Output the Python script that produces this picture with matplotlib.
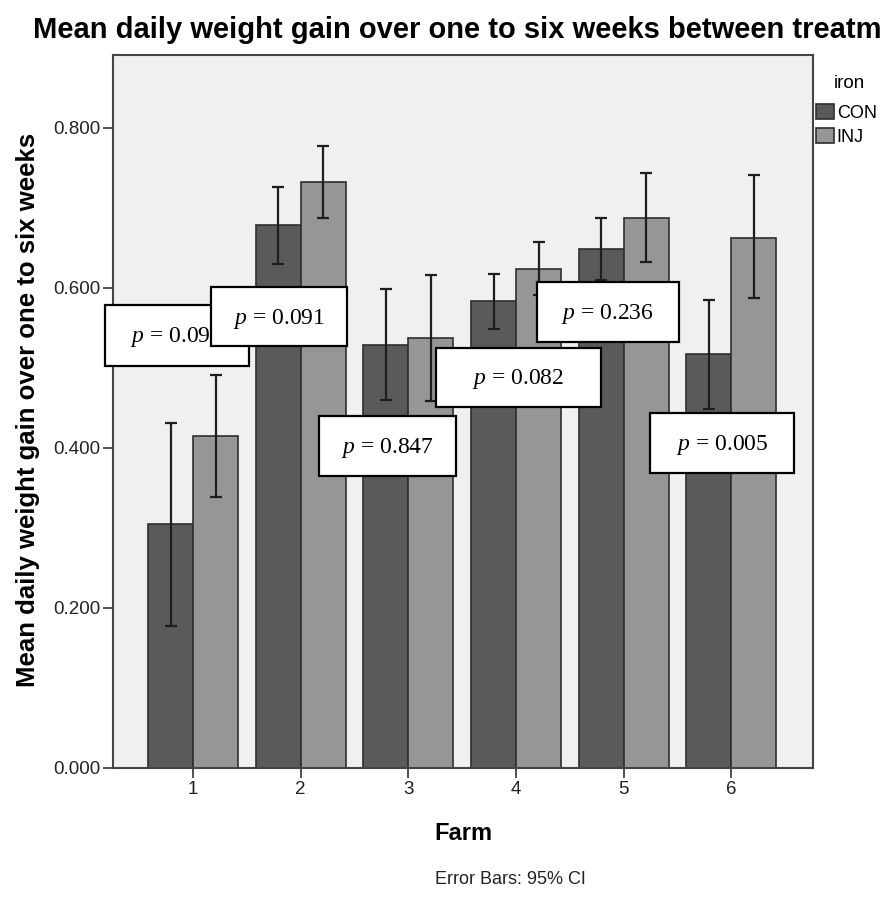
import matplotlib
matplotlib.use("Agg")
import matplotlib.pyplot as plt
from matplotlib.patches import Rectangle
import numpy as np

plt.rcParams['font.family'] = ['Liberation Sans', 'DejaVu Sans']
plt.rcParams['mathtext.fontset'] = 'custom'
plt.rcParams['mathtext.it'] = 'Liberation Serif:italic'
plt.rcParams['mathtext.rm'] = 'Liberation Serif'

# mean daily gain per farm, with 95% CI
farms = [1, 2, 3, 4, 5, 6]
con_mean = [0.305, 0.679, 0.529, 0.583, 0.649, 0.5175]
con_lo = [0.178, 0.630, 0.460, 0.549, 0.610, 0.449]
con_hi = [0.431, 0.726, 0.598, 0.6175, 0.6875, 0.585]
inj_mean = [0.415, 0.7325, 0.5375, 0.624, 0.6875, 0.6625]
inj_lo = [0.339, 0.6875, 0.459, 0.591, 0.6325, 0.5875]
inj_hi = [0.491, 0.7775, 0.616, 0.6575, 0.744, 0.741]
yticks = [0.0, 0.2, 0.4, 0.6, 0.8]

p_labels = ["0.09", "0.091", "0.847", "0.082", "0.236", "0.005"]
# box centre (data units) and size (pixels) for the p-value labels
p_boxes = [(0.851, 0.541, 144, 61), (1.80, 0.564, 136, 59),
           (2.806, 0.4025, 137, 60), (4.02, 0.488, 165, 59),
           (4.85, 0.57, 142, 60), (5.91, 0.406, 144, 60)]

W, H = 881, 901
fig = plt.figure(figsize=(W / 100, H / 100), dpi=100)
ax = fig.add_axes([113 / W, (H - 768) / H, 700 / W, 713 / H])
ax.set_facecolor('#f0f0f0')

x = np.array(farms, dtype=float)
w = 0.418
con = ax.bar(x - w / 2, con_mean, w, color='#5a5a5a', edgecolor='#2e2e2e', lw=1.2, label='CON', zorder=2)
inj = ax.bar(x + w / 2, inj_mean, w, color='#969696', edgecolor='#2e2e2e', lw=1.2, label='INJ', zorder=2)

cm = np.array(con_mean); im = np.array(inj_mean)
ax.errorbar(x - w / 2, cm, yerr=[cm - np.array(con_lo), np.array(con_hi) - cm],
            fmt='none', ecolor='#1e1e1e', elinewidth=1.6, capsize=4, capthick=1.6, zorder=3)
ax.errorbar(x + w / 2, im, yerr=[im - np.array(inj_lo), np.array(inj_hi) - im],
            fmt='none', ecolor='#1e1e1e', elinewidth=1.6, capsize=4, capthick=1.6, zorder=3)

ax.set_xlim(0.257, 6.757)
ax.set_ylim(0, 0.891)
ax.set_xticks(farms)
ax.set_xticklabels([str(f) for f in farms])
ax.set_yticks(yticks)
ax.set_yticklabels(['%.3f' % t for t in yticks])
ax.tick_params(axis='both', length=7, width=1.2, color='#333333', labelsize=13.5, labelcolor='#222222', pad=2)
for s in ax.spines.values():
    s.set_color('#444444')
    s.set_linewidth(1.5)

# p-value boxes
px2x = (6.757 - 0.257) / 700
px2y = 0.891 / 713
for i, ((cx, cy, bw, bh), lab) in enumerate(zip(p_boxes, p_labels)):
    dw = bw * px2x
    dh = bh * px2y
    ax.add_patch(Rectangle((cx - dw / 2, cy - dh / 2), dw, dh, facecolor='white',
                           edgecolor='black', lw=1.6, zorder=5 + 2 * i, clip_on=False))
    if i == 0:
        ax.text(cx - dw / 2 + 25 * px2x, cy - 2 * px2y, r'$p$ = ' + lab, ha='left', va='center',
                fontsize=17, family='Liberation Serif', zorder=6 + 2 * i)
    else:
        ax.text(cx, cy - 2 * px2y, r'$p$ = ' + lab, ha='center', va='center',
                fontsize=17, family='Liberation Serif', zorder=6 + 2 * i)

# title runs off the right edge, as in the original export
fig.text(33 / W, 1 - 30 / H, 'Mean daily weight gain over one to six weeks between treatments',
         fontsize=21, fontweight='bold', ha='left', va='center')
fig.text(28 / W, 1 - 410 / H, 'Mean daily weight gain over one to six weeks',
         fontsize=18.5, fontweight='bold', rotation=90, ha='center', va='center')
fig.text(463 / W, 1 - 833 / H, 'Farm', fontsize=17, fontweight='bold', ha='center', va='center')
fig.text(510 / W, 1 - 880 / H, 'Error Bars: 95% CI', fontsize=13, ha='center', va='center', color='#222222')

fig.text(849 / W, 1 - 83 / H, 'iron', fontsize=13.5, ha='center', va='center')
fig.legend(handles=[con, inj], loc='upper left', bbox_to_anchor=(816 / W, 1 - 104 / H),
           frameon=False, fontsize=13, handlelength=1.0, handleheight=0.9,
           handletextpad=0.15, labelspacing=0.35, borderaxespad=0, borderpad=0)

fig.savefig('out.png', dpi=100)
